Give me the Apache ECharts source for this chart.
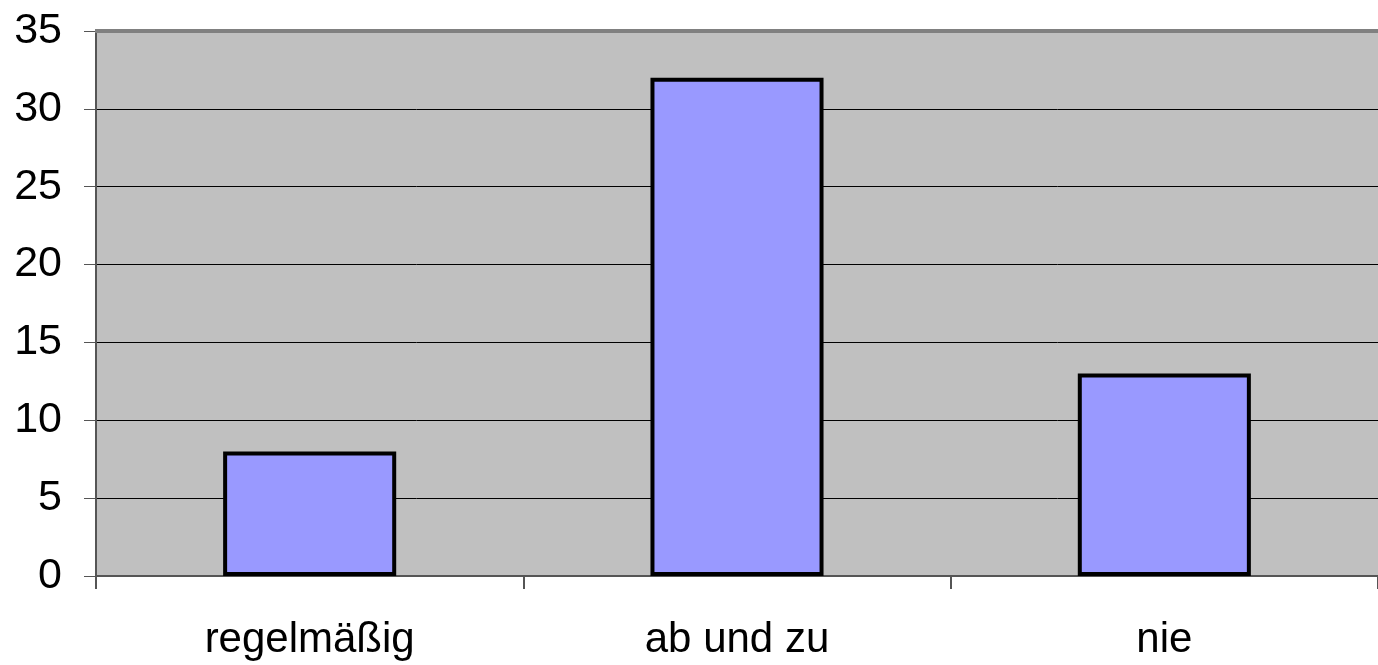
<!DOCTYPE html>
<html>
<head>
<meta charset="utf-8">
<script src="https://cdn.jsdelivr.net/npm/echarts@6/dist/echarts.min.js"></script>
<style>html,body{margin:0;padding:0;background:#fff}#c{width:1378px;height:665px}</style>
</head>
<body>
<div id="c"></div>
<script>
const categories = ['regelmäßig', 'ab und zu', 'nie'];
const values = [8, 32, 13];
const yTicks = [0, 5, 10, 15, 20, 25, 30, 35];

const chart = echarts.init(document.getElementById('c'), null, {renderer: 'canvas'});
chart.setOption({
  animation: false,
  backgroundColor: '#ffffff',
  grid: {left: 96, right: 0, top: 31, bottom: 89, show: true, backgroundColor: '#C0C0C0', borderWidth: 0},
  xAxis: {
    type: 'category',
    data: categories,
    boundaryGap: true,
    axisLine: {show: true, lineStyle: {color: '#555555', width: 2}},
    axisTick: {show: true, length: 13, lineStyle: {color: '#555555', width: 2}},
    axisLabel: {color: '#000', fontFamily: 'Liberation Sans, Arial, sans-serif', fontSize: 42, margin: 43},
    splitLine: {show: false}
  },
  yAxis: {
    type: 'value',
    min: yTicks[0],
    max: yTicks[yTicks.length - 1],
    interval: 5,
    axisLine: {show: true, lineStyle: {color: '#555555', width: 2}},
    axisTick: {show: true, length: 12, lineStyle: {color: '#555555', width: 1}},
    axisLabel: {color: '#000', fontFamily: 'Liberation Sans, Arial, sans-serif', fontSize: 43, margin: 34},
    splitLine: {show: true, lineStyle: {color: '#000000', width: 1}}
  },
  series: [{
    type: 'bar',
    data: values,
    barWidth: '40.5%',
    itemStyle: {color: '#9999FF', borderColor: '#000000', borderWidth: 4}
  }],
  graphic: [{
    type: 'rect',
    shape: {x: 95, y: 29, width: 1283, height: 4},
    style: {fill: '#808080'},
    z: 100
  }]
});
</script>
</body>
</html>
